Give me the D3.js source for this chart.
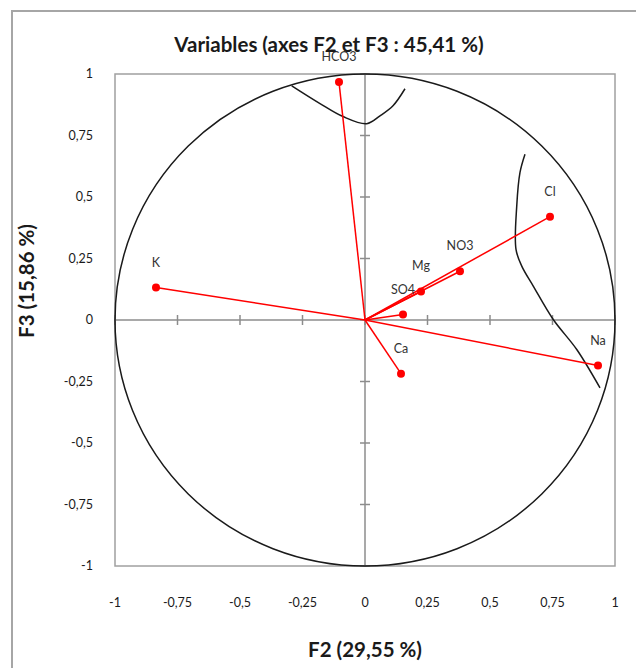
<!DOCTYPE html>
<html>
<head>
  <meta charset="utf-8">
  <title>Variables F2 / F3</title>
  <style>
    body { margin: 0; background: #fff; }
    text { font-family: Lato, "Liberation Sans", sans-serif; }
  </style>
</head>
<body>
  <svg width="636" height="668"></svg>
  <script src="https://d3js.org/d3.v7.min.js"></script>
  <script>
  // variables et coordonnées (F2, F3)
  var variables = ["HCO3", "Cl", "Na", "K", "NO3", "Mg", "SO4", "Ca"];
  var f2 = [-0.104, 0.74, 0.932, -0.836, 0.38, 0.224, 0.152, 0.144];
  var f3 = [0.967, 0.42, -0.185, 0.132, 0.198, 0.116, 0.022, -0.218];

  // courbes noires
  var topCurveX = [-0.293, -0.18, -0.088, 0.007, 0.06, 0.112, 0.16];
  var topCurveY = [0.952, 0.88, 0.827, 0.798, 0.83, 0.871, 0.94];
  var rightCurveX = [0.64, 0.62, 0.607, 0.604, 0.627, 0.673, 0.753, 0.847, 0.94];
  var rightCurveY = [0.674, 0.6, 0.464, 0.287, 0.219, 0.138, 0.002, -0.12, -0.276];

  var ticks = [-1, -0.75, -0.5, -0.25, 0, 0.25, 0.5, 0.75, 1];

  var svg = d3.select("svg");
  var x = d3.scaleLinear().domain([-1, 1]).range([115, 615]);
  var y = d3.scaleLinear().domain([-1, 1]).range([566, 74]);
  var fmt = function(d) { return String(d).replace(".", ","); };

  // cadre extérieur
  svg.append("rect")
    .attr("x", 12).attr("y", 11).attr("width", 660).attr("height", 700)
    .attr("fill", "none").attr("stroke", "#a6a6a6").attr("stroke-width", 2);

  // zone de tracé
  svg.append("rect")
    .attr("x", x(-1)).attr("y", y(1))
    .attr("width", x(1) - x(-1)).attr("height", y(-1) - y(1))
    .attr("fill", "none").attr("stroke", "#a0a0a0").attr("stroke-width", 1.5);

  // axes passant par l'origine
  svg.append("line")
    .attr("x1", x(-1)).attr("x2", x(1)).attr("y1", y(0)).attr("y2", y(0))
    .attr("stroke", "#8c8c8c").attr("stroke-width", 1.5);
  svg.append("line")
    .attr("x1", x(0)).attr("x2", x(0)).attr("y1", y(-1)).attr("y2", y(1))
    .attr("stroke", "#8c8c8c").attr("stroke-width", 1.5);

  svg.selectAll(".xtick").data(ticks).enter().append("line")
    .attr("x1", function(d) { return x(d); }).attr("x2", function(d) { return x(d); })
    .attr("y1", y(0) - 5).attr("y2", y(0) + 5)
    .attr("stroke", "#8c8c8c").attr("stroke-width", 1.5);
  svg.selectAll(".ytick").data(ticks).enter().append("line")
    .attr("y1", function(d) { return y(d); }).attr("y2", function(d) { return y(d); })
    .attr("x1", x(0) - 5).attr("x2", x(0) + 5)
    .attr("stroke", "#8c8c8c").attr("stroke-width", 1.5);

  // étiquettes des graduations
  svg.selectAll(".xlab").data(ticks).enter().append("text")
    .attr("x", function(d) { return x(d); }).attr("y", 607)
    .attr("text-anchor", "middle").style("font-size", "12.5px").attr("fill", "#1a1a1a")
    .text(fmt);
  svg.selectAll(".ylab").data(ticks).enter().append("text")
    .attr("x", 93).attr("y", function(d) { return y(d); })
    .attr("dy", "0.35em")
    .attr("text-anchor", "end").style("font-size", "12.5px").attr("fill", "#1a1a1a")
    .text(fmt);

  // cercle des corrélations
  svg.append("ellipse")
    .attr("cx", x(0)).attr("cy", y(0))
    .attr("rx", x(1) - x(0)).attr("ry", y(0) - y(1))
    .attr("fill", "none").attr("stroke", "#1a1a1a").attr("stroke-width", 1.5);

  var line = d3.line()
    .x(function(d) { return x(d[0]); })
    .y(function(d) { return y(d[1]); })
    .curve(d3.curveCatmullRom);

  svg.append("path")
    .attr("d", line(d3.zip(topCurveX, topCurveY)))
    .attr("fill", "none").attr("stroke", "#1a1a1a").attr("stroke-width", 1.5);
  svg.append("path")
    .attr("d", line(d3.zip(rightCurveX, rightCurveY)))
    .attr("fill", "none").attr("stroke", "#1a1a1a").attr("stroke-width", 1.5);

  // vecteurs des variables
  var pts = variables.map(function(v, i) { return { name: v, f2: f2[i], f3: f3[i] }; });

  svg.selectAll(".vec").data(pts).enter().append("line")
    .attr("x1", x(0)).attr("y1", y(0))
    .attr("x2", function(d) { return x(d.f2); })
    .attr("y2", function(d) { return y(d.f3); })
    .attr("stroke", "#ff0000").attr("stroke-width", 1.5);

  svg.selectAll(".pt").data(pts).enter().append("circle")
    .attr("cx", function(d) { return x(d.f2); })
    .attr("cy", function(d) { return y(d.f3); })
    .attr("r", 4).attr("fill", "#ff0000");

  svg.selectAll(".lab").data(pts).enter().append("text")
    .attr("x", function(d) { return x(d.f2); })
    .attr("y", function(d) { return y(d.f3) - 21; })
    .attr("text-anchor", "middle").style("font-size", "12.5px").attr("fill", "#333")
    .text(function(d) { return d.name; });

  // titres
  svg.append("text")
    .attr("x", 329).attr("y", 52)
    .attr("text-anchor", "middle").style("font-size", "20.5px").style("font-weight", "bold")
    .attr("fill", "#1a1a1a")
    .text("Variables (axes F2 et F3 : 45,41 %)");

  svg.append("text")
    .attr("x", x(0)).attr("y", 657)
    .attr("text-anchor", "middle").style("font-size", "20.5px").style("font-weight", "bold")
    .attr("fill", "#1a1a1a")
    .text("F2 (29,55 %)");

  svg.append("text")
    .attr("transform", "translate(34,281) rotate(-90)")
    .attr("text-anchor", "middle").style("font-size", "20.5px").style("font-weight", "bold")
    .attr("fill", "#1a1a1a")
    .text("F3 (15,86 %)");
  </script>
</body>
</html>
